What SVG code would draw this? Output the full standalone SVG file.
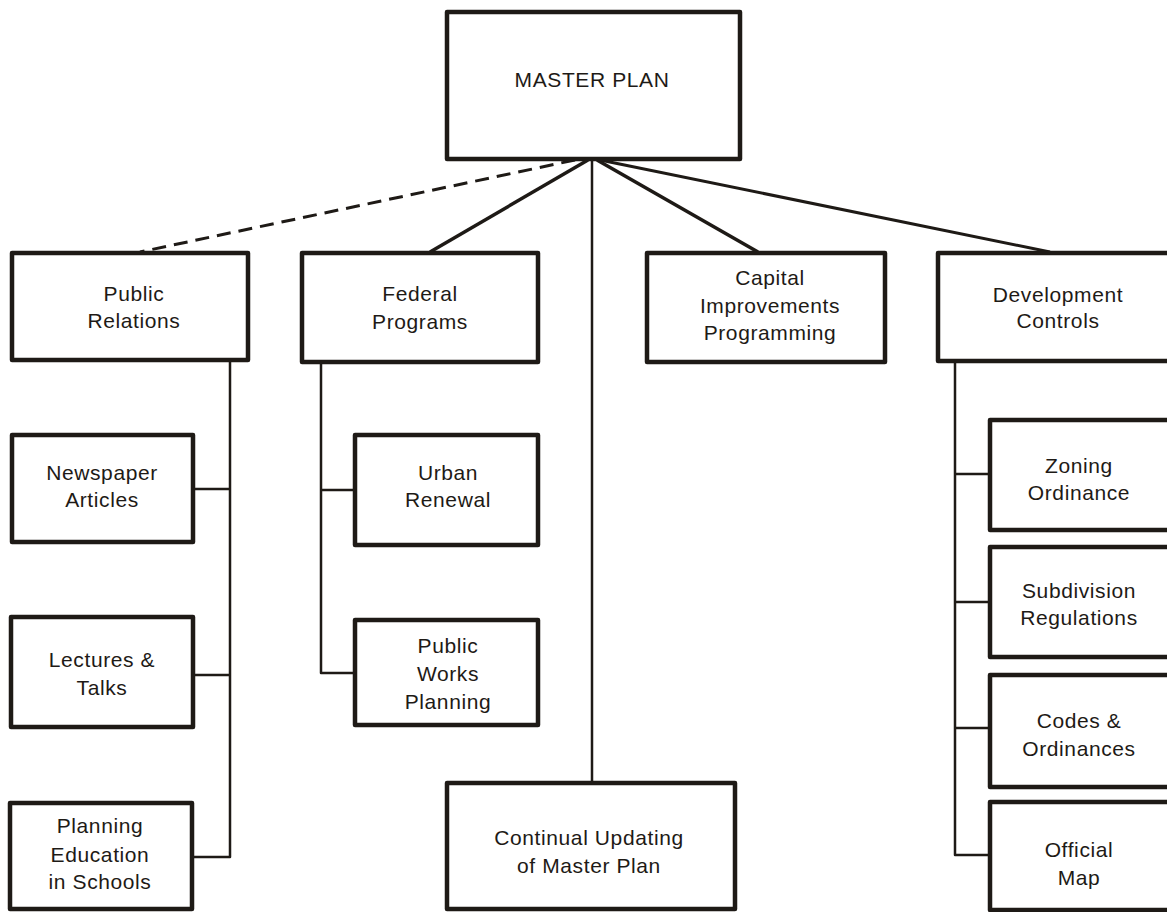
<svg xmlns="http://www.w3.org/2000/svg" width="1167" height="912" viewBox="0 0 1167 912">
<style>
.box{fill:#ffffff;stroke:#1e1a16;stroke-width:4.5;stroke-linejoin:round}
.t{font-family:"Liberation Sans","DejaVu Sans",sans-serif;font-size:21px;fill:#1e1a16;text-anchor:middle;letter-spacing:0.6px}
.ln{fill:none;stroke:#1e1a16;stroke-width:2.5;stroke-linejoin:round}
.thick{fill:none;stroke:#1e1a16;stroke-width:3.5}
.dash{fill:none;stroke:#1e1a16;stroke-width:3;stroke-dasharray:14 8}
</style>
<rect width="1167" height="912" fill="#ffffff"/>
<g id="connectors">
<line class="dash" x1="575" y1="160" x2="140" y2="252"/>
<line class="thick" x1="588" y1="160" x2="430" y2="252"/>
<line class="ln" x1="592" y1="160" x2="592" y2="783"/>
<line class="thick" x1="597" y1="160" x2="758" y2="252"/>
<line class="ln" x1="600" y1="160" x2="1050" y2="252" style="stroke-width:3"/>
<path class="ln" d="M230 360 V857 H192 M193 489 H230 M193 675 H230"/>
<path class="ln" d="M321 362 V673 H355 M321 490 H355"/>
<path class="ln" d="M955 361 V855 H990 M955 474 H990 M955 602 H990 M955 728 H990"/>
</g>
<g id="master"><rect class="box" x="447" y="12" width="293" height="147"/><text class="t" x="592" y="87">MASTER PLAN</text></g>
<g id="public-relations"><rect class="box" x="12" y="253" width="236" height="107"/><text class="t" x="134" y="301">Public</text><text class="t" x="134" y="328">Relations</text></g>
<g id="federal-programs"><rect class="box" x="302" y="253" width="236" height="109"/><text class="t" x="420" y="301">Federal</text><text class="t" x="420" y="329">Programs</text></g>
<g id="capital"><rect class="box" x="647" y="253" width="238" height="109"/><text class="t" x="770" y="285">Capital</text><text class="t" x="770" y="313">Improvements</text><text class="t" x="770" y="340">Programming</text></g>
<g id="development-controls"><rect class="box" x="938" y="253" width="240" height="108"/><text class="t" x="1058" y="302">Development</text><text class="t" x="1058" y="328">Controls</text></g>
<g id="newspaper"><rect class="box" x="12" y="435" width="181" height="107"/><text class="t" x="102" y="480">Newspaper</text><text class="t" x="102" y="507">Articles</text></g>
<g id="lectures"><rect class="box" x="11" y="617" width="182" height="110"/><text class="t" x="102" y="667">Lectures &amp;</text><text class="t" x="102" y="695">Talks</text></g>
<g id="planning-education"><rect class="box" x="10" y="803" width="182" height="106"/><text class="t" x="100" y="833">Planning</text><text class="t" x="100" y="862">Education</text><text class="t" x="100" y="889">in Schools</text></g>
<g id="urban-renewal"><rect class="box" x="355" y="435" width="183" height="110"/><text class="t" x="448" y="480">Urban</text><text class="t" x="448" y="507">Renewal</text></g>
<g id="public-works"><rect class="box" x="355" y="620" width="183" height="105"/><text class="t" x="448" y="653">Public</text><text class="t" x="448" y="681">Works</text><text class="t" x="448" y="709">Planning</text></g>
<g id="continual-updating"><rect class="box" x="447" y="783" width="288" height="126"/><text class="t" x="589" y="845">Continual Updating</text><text class="t" x="589" y="873">of Master Plan</text></g>
<g id="zoning"><rect class="box" x="990" y="420" width="190" height="110"/><text class="t" x="1079" y="473">Zoning</text><text class="t" x="1079" y="500">Ordinance</text></g>
<g id="subdivision"><rect class="box" x="990" y="547" width="190" height="110"/><text class="t" x="1079" y="598">Subdivision</text><text class="t" x="1079" y="625">Regulations</text></g>
<g id="codes"><rect class="box" x="990" y="675" width="190" height="112"/><text class="t" x="1079" y="728">Codes &amp;</text><text class="t" x="1079" y="756">Ordinances</text></g>
<g id="official-map"><rect class="box" x="990" y="802" width="190" height="108"/><text class="t" x="1079" y="857">Official</text><text class="t" x="1079" y="885">Map</text></g>
</svg>
